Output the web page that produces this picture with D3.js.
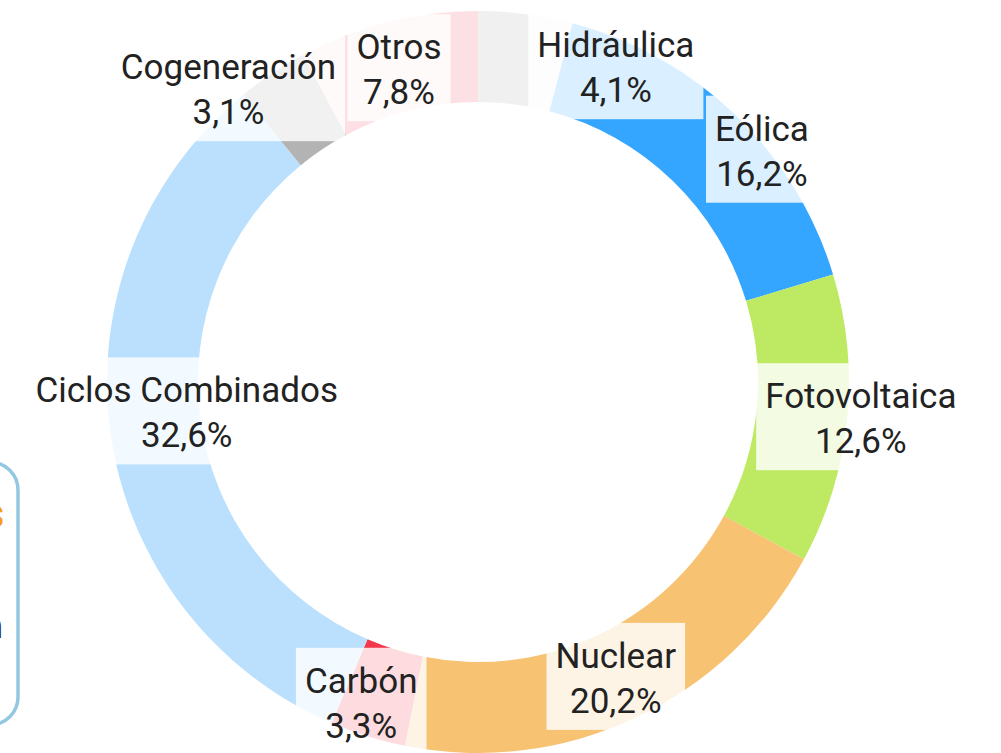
<!DOCTYPE html>
<html>
<head>
<meta charset="utf-8">
<script src="https://cdn.jsdelivr.net/npm/d3@7"></script>
<style>
	body { margin: 0; background: #fff; }
	svg { display: block; font-family: Roboto, "Noto Sans", sans-serif; }
</style>
</head>
<body>
<div id="chart"></div>
<script>
// generation mix, percent of total
var categories = ["Hidráulica", "Eólica", "Fotovoltaica", "Nuclear", "Carbón", "Ciclos Combinados", "Cogeneración", "Otros"];
var shares = [4.1, 16.2, 12.6, 20.2, 3.3, 32.6, 3.1, 7.8];
var sliceColors = ["#f0f0f0", "#34a6ff", "#bee962", "#f7c272", "#f2384c", "#bae0fd", "#b3b3b3", "#fce0e4"];
// label shifts from the ring centroid (px), to keep boxes apart
var labelNudge = [[96, 8], [58, 3], [59, 3], [0, 1], [-20, 10], [31, -15], [-69, -22], [0, 3]];

var width = 1001;
var height = 753;
var cx = 478, cy = 382;
var outerR = 371, innerR = 280;
var lineH = 45;

var es = d3.formatLocale({decimal: ",", thousands: ".", grouping: [3], currency: ["", "€"]});
var fmt = es.format(".1f");

var svg = d3.select("#chart")
	.append("svg")
	.attr("width", width)
	.attr("height", height);

// card peeking in from the left edge
var card = svg.append("g");
card.append("rect")
	.attr("x", -400).attr("y", 462)
	.attr("width", 418).attr("height", 263)
	.attr("rx", 28)
	.style("fill", "#fff")
	.style("stroke", "#94c8e2")
	.style("stroke-width", 3.5);
card.append("text")
	.attr("x", 4).attr("y", 528)
	.attr("text-anchor", "end")
	.style("font-size", "42px")
	.style("font-weight", "bold")
	.style("fill", "#f59d16")
	.text("Fuentes");
card.append("text")
	.attr("x", 3).attr("y", 638)
	.attr("text-anchor", "end")
	.style("font-size", "35px")
	.style("fill", "#222")
	.text("generación");

var data = categories.map((c, i) => ({name: c, value: shares[i], color: sliceColors[i], nudge: labelNudge[i]}));

var pie = d3.pie().sort(null).value(d => d.value);
var arcs = pie(data);

var arc = d3.arc().innerRadius(innerR).outerRadius(outerR);
var midArc = d3.arc().innerRadius((innerR + outerR) / 2).outerRadius((innerR + outerR) / 2);

var g = svg.append("g")
	.attr("transform", "translate(" + cx + "," + cy + ")");

g.selectAll("path.slice")
	.data(arcs)
	.enter()
	.append("path")
	.attr("class", "slice")
	.attr("d", arc)
	.style("fill", d => d.data.color);

var labelG = g.append("g");
arcs.forEach(function(d) {
	var c = midArc.centroid(d);
	var x = c[0] + d.data.nudge[0];
	var y = c[1] + d.data.nudge[1];
	var b1 = y - 10; // first baseline
	var lg = labelG.append("g");
	var box = lg.append("rect");
	var t = lg.append("text")
		.attr("text-anchor", "middle")
		.style("font-size", "35px")
		.style("fill", "#222");
	var t1 = t.append("tspan").attr("x", x).attr("y", b1).text(d.data.name);
	var t2 = t.append("tspan").attr("x", x).attr("y", b1 + lineH).text(fmt(d.data.value) + "%");
	var w = Math.max(t1.node().getComputedTextLength(), t2.node().getComputedTextLength());
	box.attr("x", x - w / 2 - 9)
		.attr("y", b1 - 45)
		.attr("width", w + 18)
		.attr("height", 107)
		.style("fill", "#fff")
		.style("fill-opacity", 0.82);
});
</script>
</body>
</html>
